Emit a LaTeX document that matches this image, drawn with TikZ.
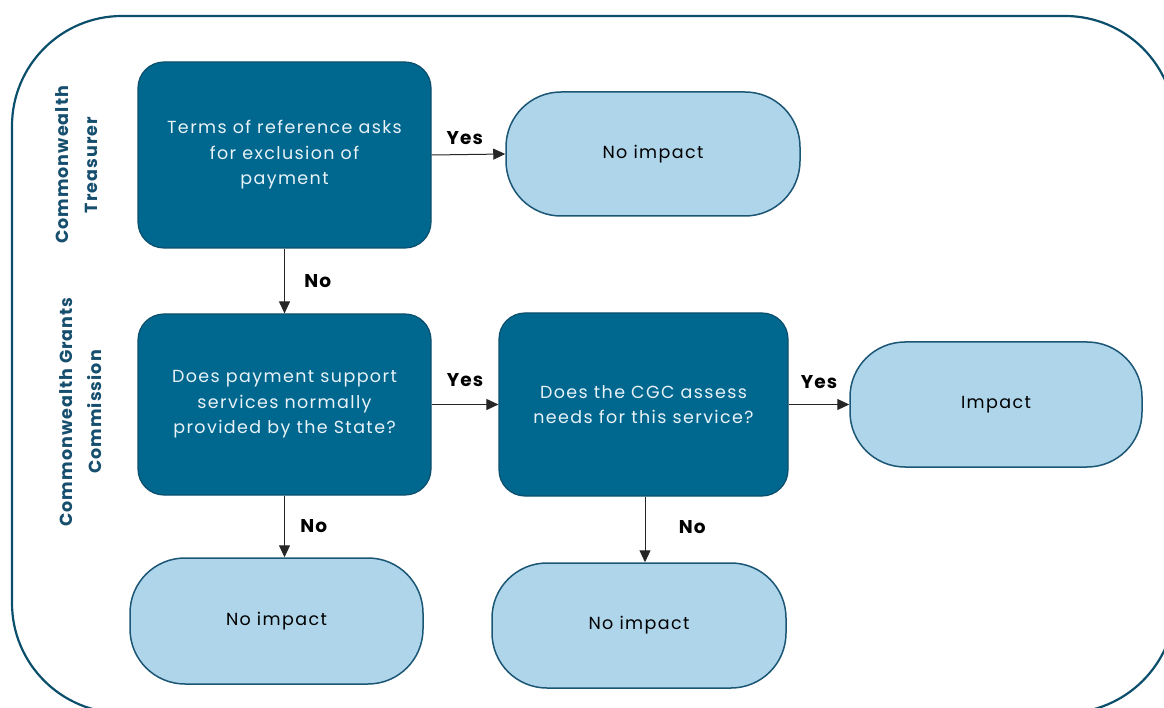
\documentclass[tikz,border=0pt]{standalone}
\usepackage{fontspec}
\setmainfont{Poppins}
\usetikzlibrary{arrows.meta}
\definecolor{darkfill}{HTML}{00678F}
\definecolor{darkline}{HTML}{0B4F6C}
\definecolor{lightfill}{HTML}{AED5EA}
\definecolor{lightline}{HTML}{1B5775}
\definecolor{boxtext}{HTML}{E8F2F7}
\definecolor{sidetext}{HTML}{164E6E}
\newfontfamily\boxfont[LetterSpace=8]{Poppins}
\newfontfamily\lblfont[LetterSpace=6]{Poppins}
\tikzset{
  decision/.style={draw=darkline, line width=1.2pt, fill=darkfill, rounded corners=26pt,
    text=boxtext, align=center, font=\boxfont\fontsize{17.5}{25.5}\selectfont, inner sep=0pt},
  terminal/.style={draw=lightline, line width=1.5pt, fill=lightfill, rounded corners=55pt,
    text=black, align=center, font=\boxfont\fontsize{17.5}{25.5}\selectfont, inner sep=0pt},
  flow/.style={line width=1pt, draw=black!85, -{Triangle[length=12pt,width=11pt]}},
  lbl/.style={font=\lblfont\bfseries\fontsize{18.5}{20}\selectfont, text=black},
  side/.style={font=\lblfont\bfseries\fontsize{17.5}{29}\selectfont, text=sidetext, align=center, rotate=90}
}
\begin{document}
\begin{tikzpicture}[x=1pt,y=-1pt]
\useasboundingbox (0,0) rectangle (1164,708);
\clip (0,0) rectangle (1164,708);
\draw[draw=darkline, line width=2.2pt, rounded corners=110pt] (12,16) rectangle (1175,713);

\node[side] (s1) at (77,165) {Commonwealth\\Treasurer};
\node[side] (s2) at (81,412) {Commonwealth Grants\\Commission};

\node[decision, minimum width=293pt, minimum height=186pt] (b1) at (284.5,155) {Terms of reference asks\\for exclusion of\\payment};
\node[decision, minimum width=293pt, minimum height=181pt] (b2) at (284.5,404.5) {Does payment support\\services normally\\provided by the State?};
\node[decision, minimum width=289pt, minimum height=183pt] (b3) at (643.5,404.5) {Does the CGC assess\\needs for this service?};

\node[terminal, minimum width=294pt, minimum height=124pt] (n1) at (653,154) {No impact};
\node[terminal, minimum width=292pt, minimum height=125pt] (im) at (996,404.5) {Impact};
\node[terminal, minimum width=293pt, minimum height=126pt] (n2) at (276.5,621) {No impact};
\node[terminal, minimum width=294pt, minimum height=125pt] (n3) at (639,625.5) {No impact};

\draw[flow] (b1.east) -- (n1.west) node[lbl, pos=0.45, above=6pt] (l1) {Yes};
\draw[flow] (b1.south) -- (b2.north) node[lbl, midway, right=16pt] (l2) {No};
\draw[flow] (b2.east) -- (b3.west) node[lbl, midway, above=14pt] (l3) {Yes};
\draw[flow] (b3.east) -- (im.west) node[lbl, midway, above=12pt] (l4) {Yes};
\draw[flow] (b2.south) -- (b2.south |- n2.north) node[lbl, midway, right=12pt] (l5) {No};
\draw[flow] ([xshift=1.5pt]b3.south) -- ([xshift=1.5pt]b3.south |- n3.north) node[lbl, midway, above=2pt, right=30pt] (l6) {No};
\end{tikzpicture}
\end{document}
